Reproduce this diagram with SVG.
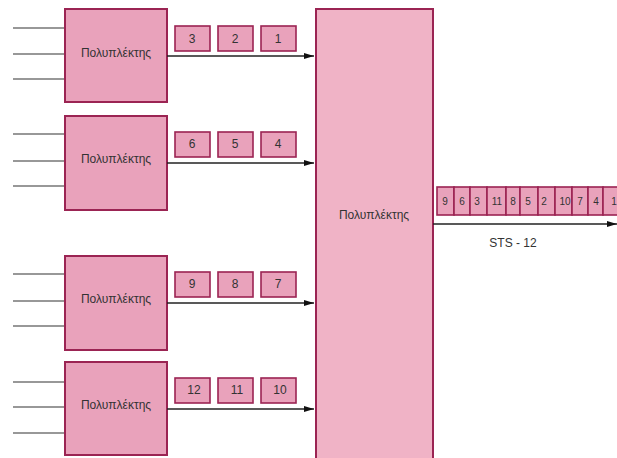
<svg xmlns="http://www.w3.org/2000/svg" width="617" height="458" viewBox="0 0 617 458">
<defs>
<marker id="ah" markerWidth="10" markerHeight="6" refX="10" refY="3" orient="auto" markerUnits="userSpaceOnUse">
<path d="M0,0 L10,3 L0,6 Z" fill="#111"/>
</marker>
<style>
.mux{fill:#e9a2bb;stroke:#9b2453;stroke-width:2}
.big{fill:#f0b3c6;stroke:#9b2453;stroke-width:2}
.cell{fill:#e9a2bb;stroke:#9b2453;stroke-width:1.6}
.in{stroke:#333;stroke-width:1.2}
.ar{stroke:#222;stroke-width:1.3;fill:none;marker-end:url(#ah)}
text{font-family:"Liberation Sans",Arial,sans-serif;fill:#333;text-anchor:middle}
.lbl{font-size:12px}
.num{font-size:12px}
.sm{font-size:10px}
</style>
</defs>
<g id="inputs">
<line class="in" x1="13" y1="28" x2="65" y2="28"/><line class="in" x1="13" y1="54" x2="65" y2="54"/><line class="in" x1="13" y1="79" x2="65" y2="79"/>
<line class="in" x1="13" y1="134" x2="65" y2="134"/><line class="in" x1="13" y1="161" x2="65" y2="161"/><line class="in" x1="13" y1="186" x2="65" y2="186"/>
<line class="in" x1="13" y1="274" x2="65" y2="274"/><line class="in" x1="13" y1="301" x2="65" y2="301"/><line class="in" x1="13" y1="326" x2="65" y2="326"/>
<line class="in" x1="13" y1="382" x2="65" y2="382"/><line class="in" x1="13" y1="407" x2="65" y2="407"/><line class="in" x1="13" y1="433" x2="65" y2="433"/>
</g>
<g id="mux1"><rect class="mux" x="65" y="9" width="102" height="93"/><text class="lbl" x="116" y="57">Πολυπλέκτης</text></g>
<g id="mux2"><rect class="mux" x="65" y="116" width="102" height="94"/><text class="lbl" x="116" y="163">Πολυπλέκτης</text></g>
<g id="mux3"><rect class="mux" x="65" y="256" width="102" height="94"/><text class="lbl" x="116" y="303">Πολυπλέκτης</text></g>
<g id="mux4"><rect class="mux" x="65" y="362" width="102" height="93"/><text class="lbl" x="116" y="409">Πολυπλέκτης</text></g>
<g id="muxMain"><rect class="big" x="316" y="9" width="117" height="460"/><text class="lbl" x="374" y="219">Πολυπλέκτης</text></g>
<g id="cells1">
<rect class="cell" x="175" y="26" width="35" height="25"/><text class="num" x="192" y="43">3</text>
<rect class="cell" x="218" y="26" width="35" height="25"/><text class="num" x="235" y="43">2</text>
<rect class="cell" x="261" y="26" width="35" height="25"/><text class="num" x="278" y="43">1</text>
</g>
<g id="cells2">
<rect class="cell" x="175" y="132" width="35" height="25"/><text class="num" x="192" y="148">6</text>
<rect class="cell" x="218" y="132" width="35" height="25"/><text class="num" x="235" y="148">5</text>
<rect class="cell" x="261" y="132" width="35" height="25"/><text class="num" x="278" y="148">4</text>
</g>
<g id="cells3">
<rect class="cell" x="175" y="272" width="35" height="25"/><text class="num" x="192" y="288">9</text>
<rect class="cell" x="218" y="272" width="35" height="25"/><text class="num" x="235" y="288">8</text>
<rect class="cell" x="261" y="272" width="35" height="25"/><text class="num" x="278" y="288">7</text>
</g>
<g id="cells4">
<rect class="cell" x="175" y="378" width="35" height="25"/><text class="num" x="194" y="394">12</text>
<rect class="cell" x="218" y="378" width="35" height="25"/><text class="num" x="237" y="394">11</text>
<rect class="cell" x="261" y="378" width="35" height="25"/><text class="num" x="280" y="394">10</text>
</g>
<g id="outcells">
<rect class="cell" x="437" y="187" width="17" height="28"/><text class="sm" x="445" y="205">9</text>
<rect class="cell" x="454" y="187" width="16" height="28"/><text class="sm" x="462" y="205">6</text>
<rect class="cell" x="470" y="187" width="17" height="28"/><text class="sm" x="477" y="205">3</text>
<rect class="cell" x="487" y="187" width="19" height="28"/><text class="sm" x="497" y="205">11</text>
<rect class="cell" x="506" y="187" width="14" height="28"/><text class="sm" x="513" y="205">8</text>
<rect class="cell" x="520" y="187" width="18" height="28"/><text class="sm" x="528" y="205">5</text>
<rect class="cell" x="538" y="187" width="17" height="28"/><text class="sm" x="544" y="205">2</text>
<rect class="cell" x="555" y="187" width="17" height="28"/><text class="sm" x="565" y="205">10</text>
<rect class="cell" x="572" y="187" width="16" height="28"/><text class="sm" x="580" y="205">7</text>
<rect class="cell" x="588" y="187" width="15" height="28"/><text class="sm" x="596" y="205">4</text>
<rect class="cell" x="603" y="187" width="16" height="28"/><text class="sm" x="614" y="205">1</text>
</g>
<g id="connectors">
<line class="ar" x1="167" y1="56" x2="314" y2="56"/>
<line class="ar" x1="167" y1="163" x2="314" y2="163"/>
<line class="ar" x1="167" y1="303" x2="314" y2="303"/>
<line class="ar" x1="167" y1="409" x2="314" y2="409"/>
<line class="ar" x1="433" y1="224" x2="617" y2="224"/>
</g>
<text class="lbl" x="513" y="247">STS - 12</text>
</svg>
